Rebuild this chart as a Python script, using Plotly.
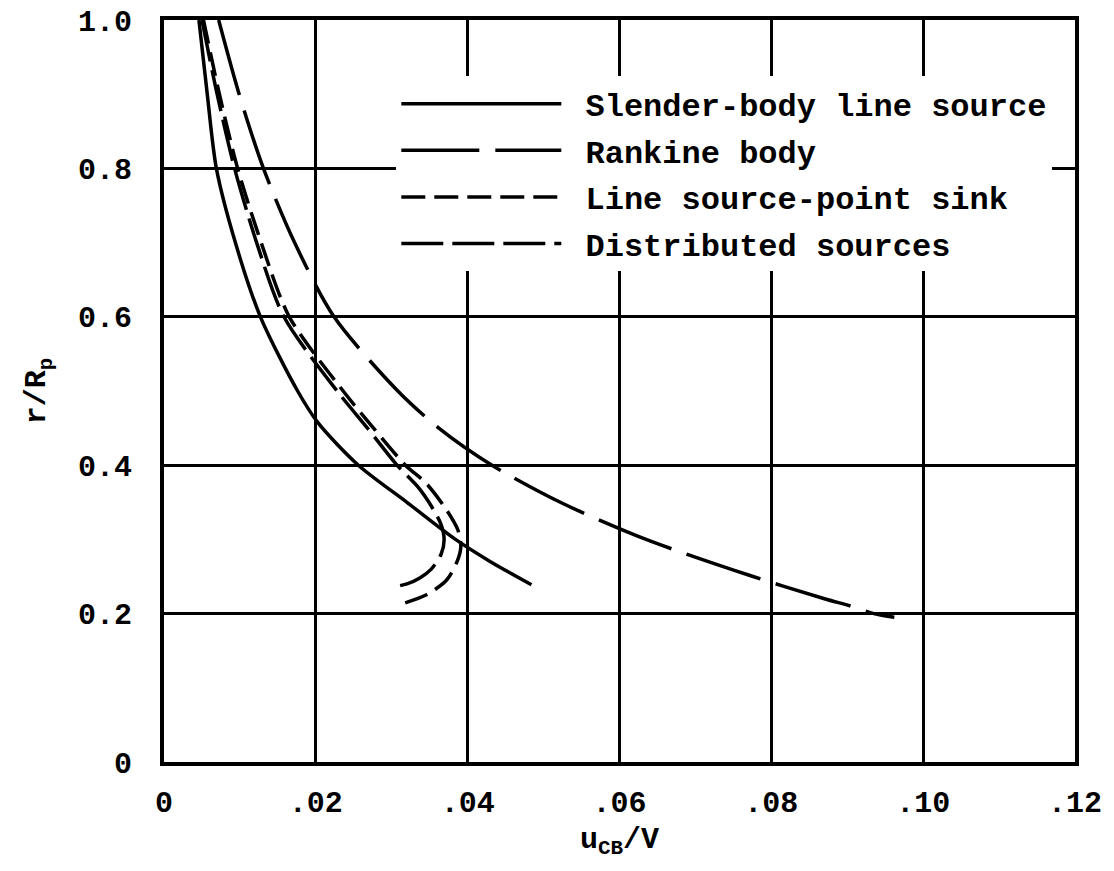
import plotly.graph_objects as go

# ---- data ----
names = ["Slender-body line source", "Rankine body", "Line source-point sink", "Distributed sources"]

slender_u = [0.0046, 0.0057, 0.0069, 0.0094, 0.0127, 0.0176, 0.0203, 0.0256, 0.0320, 0.0384, 0.0430, 0.0484]
slender_r = [1.00, 0.90, 0.80, 0.70, 0.60, 0.50, 0.457, 0.40, 0.35, 0.30, 0.27, 0.239]

rankine_u = [0.0072, 0.0099, 0.0131, 0.0172, 0.0224, 0.0308, 0.0362, 0.0432, 0.0522, 0.0635,
             0.0776, 0.0870, 0.0905, 0.0935, 0.0962]
rankine_r = [1.00, 0.90, 0.80, 0.70, 0.60, 0.50, 0.45, 0.40, 0.35, 0.30,
             0.25, 0.22, 0.21, 0.20, 0.195]

sink_u = [0.0052, 0.0073, 0.0097, 0.0128, 0.0165, 0.0236, 0.0276, 0.0318, 0.0345, 0.0372, 0.0387,
          0.0391, 0.0386, 0.0372, 0.0345, 0.0316]
sink_r = [1.00, 0.90, 0.80, 0.70, 0.60, 0.50, 0.45, 0.40, 0.376, 0.34, 0.313,
          0.29, 0.27, 0.245, 0.225, 0.214]

distrib_u = [0.0050, 0.0070, 0.0093, 0.0122, 0.0158, 0.0228, 0.0268, 0.0307, 0.0335, 0.0355, 0.0365,
             0.0369, 0.0365, 0.0352, 0.0337, 0.0320, 0.0303]
distrib_r = [1.00, 0.90, 0.80, 0.70, 0.60, 0.50, 0.45, 0.40, 0.37, 0.34, 0.32,
             0.30, 0.28, 0.26, 0.248, 0.240, 0.236]

x_ticks = [0, 0.02, 0.04, 0.06, 0.08, 0.10, 0.12]
x_tick_text = ["0", ".02", ".04", ".06", ".08", ".10", ".12"]
y_ticks = [0, 0.2, 0.4, 0.6, 0.8, 1.0]
y_tick_text = ["0", "0.2", "0.4", "0.6", "0.8", "1.0"]

FONT = "Liberation Mono"
PAD = "\u00a0"

series = [
    (names[0], slender_u, slender_r, "solid"),
    (names[1], rankine_u, rankine_r, "78px,16px"),
    (names[2], sink_u, sink_r, "24px,9px"),
    (names[3], distrib_u, distrib_r, "42px,9px"),
]

fig = go.Figure()
for i, (nm, u, r, dash) in enumerate(series):
    fig.add_trace(go.Scatter(
        x=u, y=r, mode="lines", name=PAD + nm, legendgroup=f"g{i}",
        line=dict(color="black", width=3.5, dash=dash, shape="spline", smoothing=0.8),
    ))

fig.update_layout(
    width=1114, height=871,
    margin=dict(l=164, r=39, t=20, b=109),
    paper_bgcolor="white", plot_bgcolor="white",
    font=dict(family=FONT, color="black", size=30, weight="bold"),
    showlegend=True,
    legend=dict(
        x=0.255, y=0.924, xanchor="left", yanchor="top",
        bgcolor="white", borderwidth=0,
        font=dict(family=FONT, size=32, color="black", weight="bold"),
        itemwidth=160, tracegroupgap=2,
    ),
    xaxis=dict(
        range=[0, 0.12], tickvals=x_ticks, ticktext=x_tick_text, automargin=False,
        showgrid=True, gridcolor="black", gridwidth=2.5,
        showline=True, linecolor="black", linewidth=4, mirror=True,
        zeroline=False, ticks="", ticklabelstandoff=10,
        title=dict(text="u<sub>CB</sub>/V", font=dict(family=FONT, size=30, weight="bold"), standoff=8),
    ),
    yaxis=dict(
        range=[0, 1.0], tickvals=y_ticks, ticktext=y_tick_text, automargin=False,
        showgrid=True, gridcolor="black", gridwidth=2.5,
        showline=True, linecolor="black", linewidth=4, mirror=True,
        zeroline=False, ticks="", ticklabelstandoff=22,
        title=dict(text="r/R<sub>p</sub>", font=dict(family=FONT, size=30, weight="bold"), standoff=24),
    ),
)

# remove the default page margin so the figure sits at the window's top-left corner
fig.write_html("out.html", config={"displayModeBar": False},
               post_script="document.body.style.margin='0';")
